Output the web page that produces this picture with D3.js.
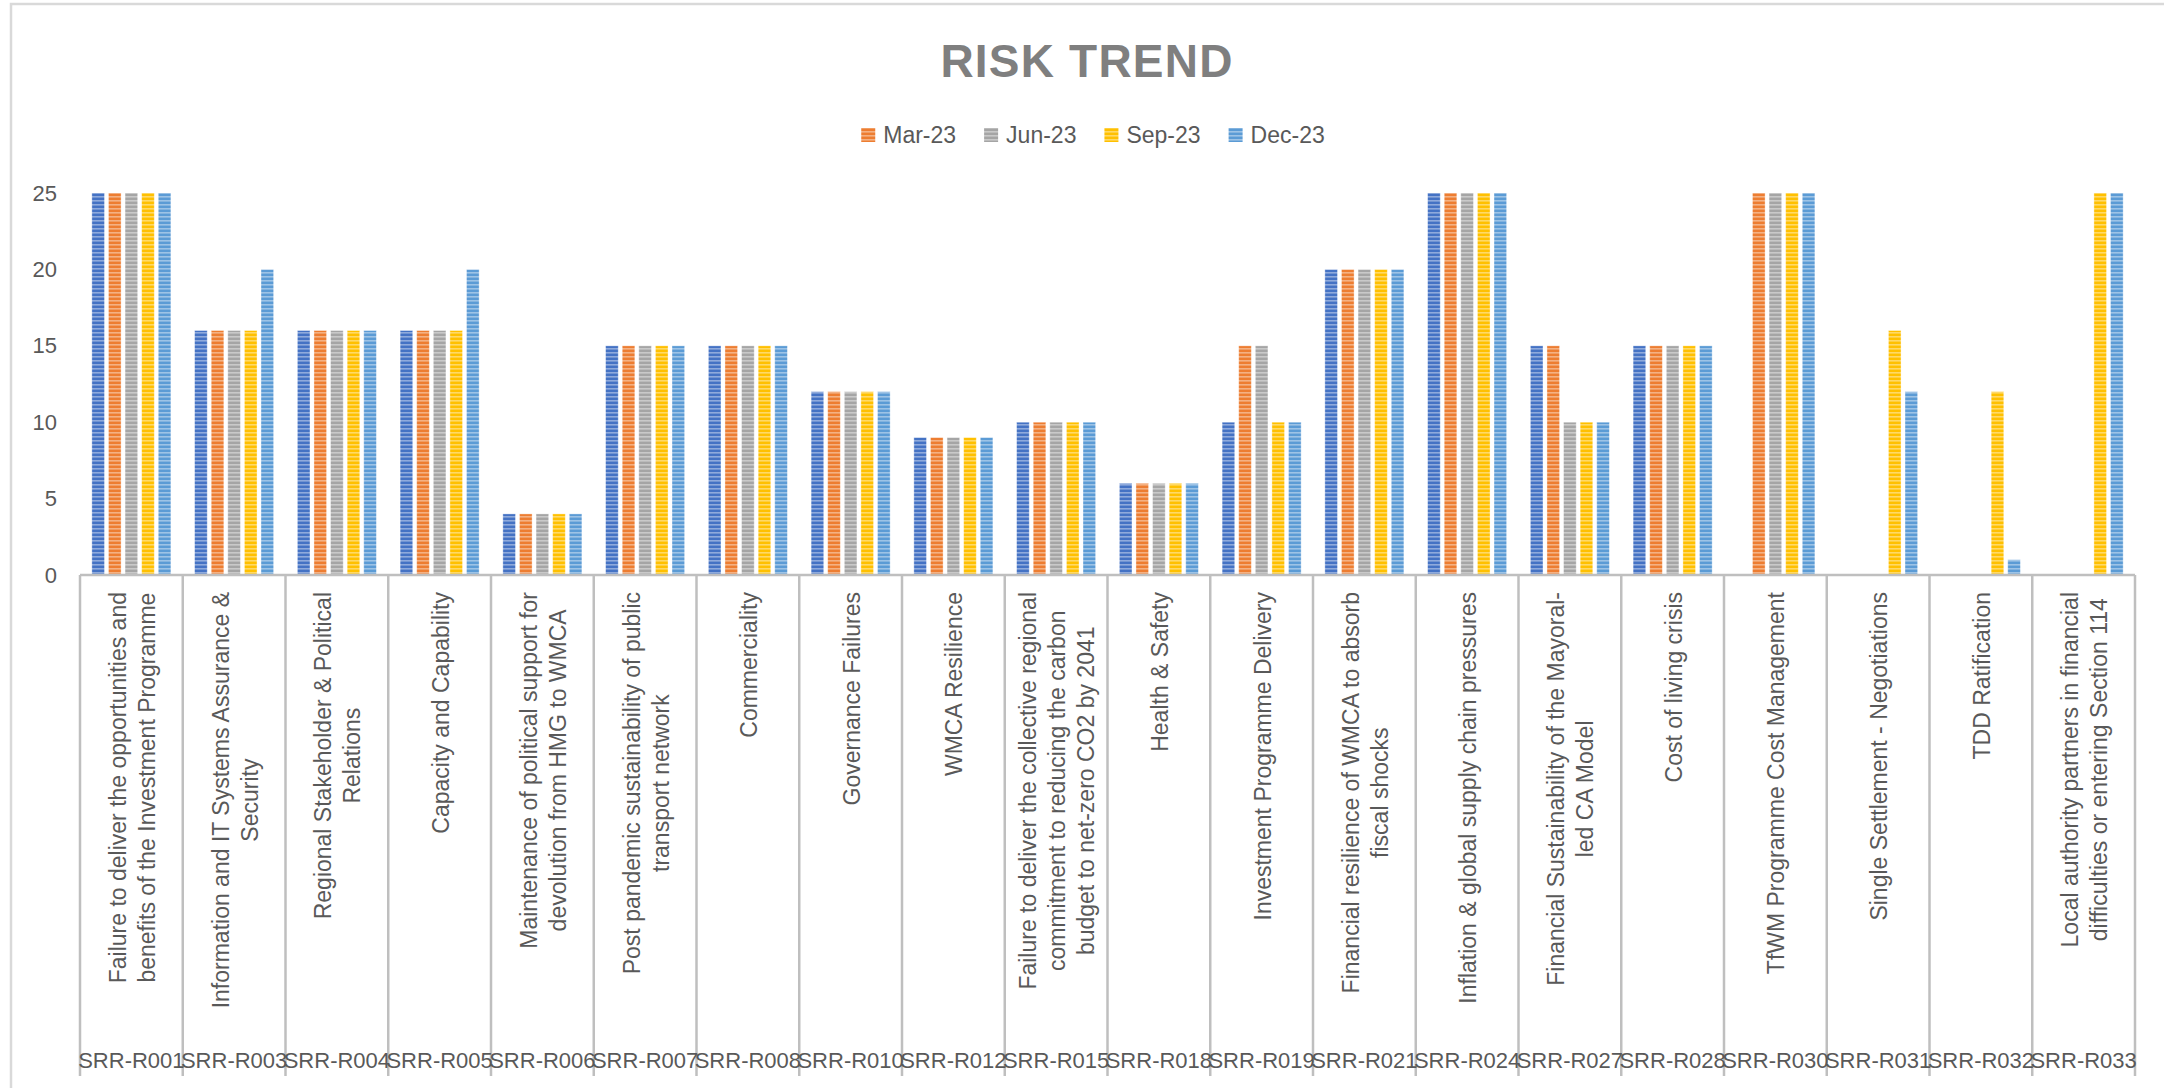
<!DOCTYPE html>
<html>
<head>
<meta charset="utf-8">
<script src="https://cdn.jsdelivr.net/npm/d3@7"></script>
<style>
  body { margin: 0; background: #fff; }
  text { font-family: "Liberation Sans", Arial, sans-serif; }
</style>
</head>
<body>
<svg id="chart"></svg>
<script>
// risk codes (outer axis level) and risk names (inner level, wrapped as in the original)
const codes = ["SRR-R001", "SRR-R003", "SRR-R004", "SRR-R005", "SRR-R006", "SRR-R007", "SRR-R008",
  "SRR-R010", "SRR-R012", "SRR-R015", "SRR-R018", "SRR-R019", "SRR-R021", "SRR-R024", "SRR-R027",
  "SRR-R028", "SRR-R030", "SRR-R031", "SRR-R032", "SRR-R033"]
const names = [
  "Failure to deliver the opportunities and\nbenefits of the Investment Programme",
  "Information and IT Systems Assurance &\nSecurity",
  "Regional Stakeholder & Political\nRelations",
  "Capacity and Capability",
  "Maintenance of political support for\ndevolution from HMG to WMCA",
  "Post pandemic sustainability of public\ntransport network",
  "Commerciality",
  "Governance Failures",
  "WMCA Resilience",
  "Failure to deliver the collective regional\ncommitment to reducing the carbon\nbudget to net-zero CO2 by 2041",
  "Health & Safety",
  "Investment Programme Delivery",
  "Financial resilience of WMCA to absorb\nfiscal shocks",
  "Inflation & global supply chain pressures",
  "Financial Sustainability of the Mayoral-\nled CA Model",
  "Cost of living crisis",
  "TfWM Programme Cost Management",
  "Single Settlement - Negotiations",
  "TDD Ratification",
  "Local authority partners in financial\ndifficulties or entering Section 114"
]

// series (first one has no legend entry in the original)
const seriesNames = ["", "Mar-23", "Jun-23", "Sep-23", "Dec-23"]
const seriesColors = ["#4472C4", "#ED7D31", "#A5A5A5", "#FFC000", "#5B9BD5"]
const base   = [25, 16, 16, 16, 4, 15, 15, 12, 9, 10, 6, 10, 20, 25, 15, 15, null, null, null, null]
const mar23  = [25, 16, 16, 16, 4, 15, 15, 12, 9, 10, 6, 15, 20, 25, 15, 15, 25, null, null, null]
const jun23  = [25, 16, 16, 16, 4, 15, 15, 12, 9, 10, 6, 15, 20, 25, 10, 15, 25, null, null, null]
const sep23  = [25, 16, 16, 16, 4, 15, 15, 12, 9, 10, 6, 10, 20, 25, 10, 15, 25, 16, 12, 25]
const dec23  = [25, 20, 16, 20, 4, 15, 15, 12, 9, 10, 6, 10, 20, 25, 10, 15, 25, 12, 1, 25]
const seriesValues = [base, mar23, jun23, sep23, dec23]
const yTicks = [0, 5, 10, 15, 20, 25]

const W = 2164, H = 1088
const plot = { left: 80, right: 2135, top: 193, bottom: 575 }
const labelColor = "#595959"
const lineColor = "#bfbfbf"

const svg = d3.select("#chart").attr("width", W).attr("height", H)

// striped fills like the original pattern fill
const defs = svg.append("defs")
seriesColors.forEach((c, i) => {
  const p = defs.append("pattern")
    .attr("id", "stripe" + i)
    .attr("patternUnits", "userSpaceOnUse")
    .attr("width", 8).attr("height", 4)
  p.append("rect").attr("width", 8).attr("height", 4).attr("fill", c)
  p.append("rect").attr("y", 0).attr("width", 8).attr("height", 1.6)
    .attr("fill", "#fff").attr("opacity", 0.4)
})

// chart border (only top/left visible)
svg.append("rect")
  .attr("x", 11).attr("y", 4).attr("width", 2300).attr("height", 1200)
  .attr("fill", "none").attr("stroke", "#d9d9d9").attr("stroke-width", 2.5)

const x0 = d3.scaleBand().domain(codes).range([plot.left, plot.right]).padding(0)
const x1 = d3.scaleBand().domain(d3.range(seriesNames.length))
  .range([0, x0.bandwidth()]).paddingInner(0.24).paddingOuter(0.715)
const y = d3.scaleLinear().domain([0, 25]).range([plot.bottom, plot.top])

// title
svg.append("text")
  .attr("x", 1087).attr("y", 77)
  .attr("text-anchor", "middle")
  .attr("font-size", 46).attr("font-weight", "bold")
  .attr("letter-spacing", 1.2)
  .attr("fill", "#7f7f7f")
  .text("RISK TREND")

// legend (skip the unnamed series)
const legend = svg.append("g")
let lx = 0
seriesNames.forEach((n, i) => {
  if (!n) return
  const g = legend.append("g").attr("transform", `translate(${lx},0)`)
  g.append("rect").attr("x", 0).attr("y", -7).attr("width", 14).attr("height", 14)
    .attr("fill", `url(#stripe${i})`)
  const t = g.append("text").attr("x", 22).attr("y", 8)
    .attr("font-size", 23).attr("fill", labelColor).text(n)
  lx += 22 + t.node().getComputedTextLength() + 28
})
const legendW = lx - 28
legend.attr("transform", `translate(${1093 - legendW / 2},135)`)

// y axis labels
const yAxis = svg.append("g")
  .attr("transform", `translate(${plot.left},0)`)
  .call(d3.axisLeft(y).tickValues(yTicks).tickSize(0).tickPadding(23))
yAxis.select(".domain").remove()
yAxis.selectAll("text")
  .attr("font-size", 22).attr("fill", labelColor)
  .style("font-family", '"Liberation Sans", Arial, sans-serif')

// bars
const groups = svg.append("g").selectAll("g")
  .data(codes)
  .join("g")
  .attr("transform", (d) => `translate(${x0(d)},0)`)

groups.selectAll("rect")
  .data((d, ci) => seriesValues.map((vals, si) => ({ si, v: vals[ci] })).filter((d) => d.v != null))
  .join("rect")
  .attr("x", (d) => x1(d.si))
  .attr("width", x1.bandwidth())
  .attr("y", (d) => y(d.v))
  .attr("height", (d) => y(0) - y(d.v))
  .attr("fill", (d) => `url(#stripe${d.si})`)
  .attr("stroke", "#ffffff").attr("stroke-opacity", 0.45).attr("stroke-width", 0.8)

// category axis: baseline and cell dividers
svg.append("line")
  .attr("x1", plot.left).attr("x2", plot.right)
  .attr("y1", y(0)).attr("y2", y(0))
  .attr("stroke", lineColor).attr("stroke-width", 2.5)

const dividers = codes.map((c) => x0(c)).concat([plot.right])
svg.append("g").selectAll("line")
  .data(dividers)
  .join("line")
  .attr("x1", (d) => d).attr("x2", (d) => d)
  .attr("y1", y(0)).attr("y2", 1076)
  .attr("stroke", lineColor).attr("stroke-width", 2.5)

// rotated risk names
const labelTop = 592
const lineH = 29
const nameGroups = svg.append("g").selectAll("g")
  .data(codes)
  .join("g")
  .attr("transform", (d) => `translate(${x0(d) + x0.bandwidth() / 2},0)`)

nameGroups.each(function (d, i) {
  const g = d3.select(this)
  const lines = names[i].split("\n")
  const texts = lines.map((ln, k) =>
    g.append("text")
      .attr("transform", "rotate(-90)")
      .attr("font-size", 23)
      .attr("fill", labelColor)
      .attr("text-anchor", "middle")
      .attr("dominant-baseline", "central")
      .attr("y", (k - (lines.length - 1) / 2) * lineH + 1)
      .text(ln)
  )
  const maxLen = d3.max(texts, (t) => t.node().getComputedTextLength())
  texts.forEach((t) => t.attr("x", -(labelTop + maxLen / 2)))
})

// outer level codes
svg.append("g").selectAll("text")
  .data(codes)
  .join("text")
  .attr("x", (d) => x0(d) + x0.bandwidth() / 2)
  .attr("y", 1068)
  .attr("text-anchor", "middle")
  .attr("font-size", 22)
  .attr("fill", labelColor)
  .text((d) => d)
</script>
</body>
</html>
